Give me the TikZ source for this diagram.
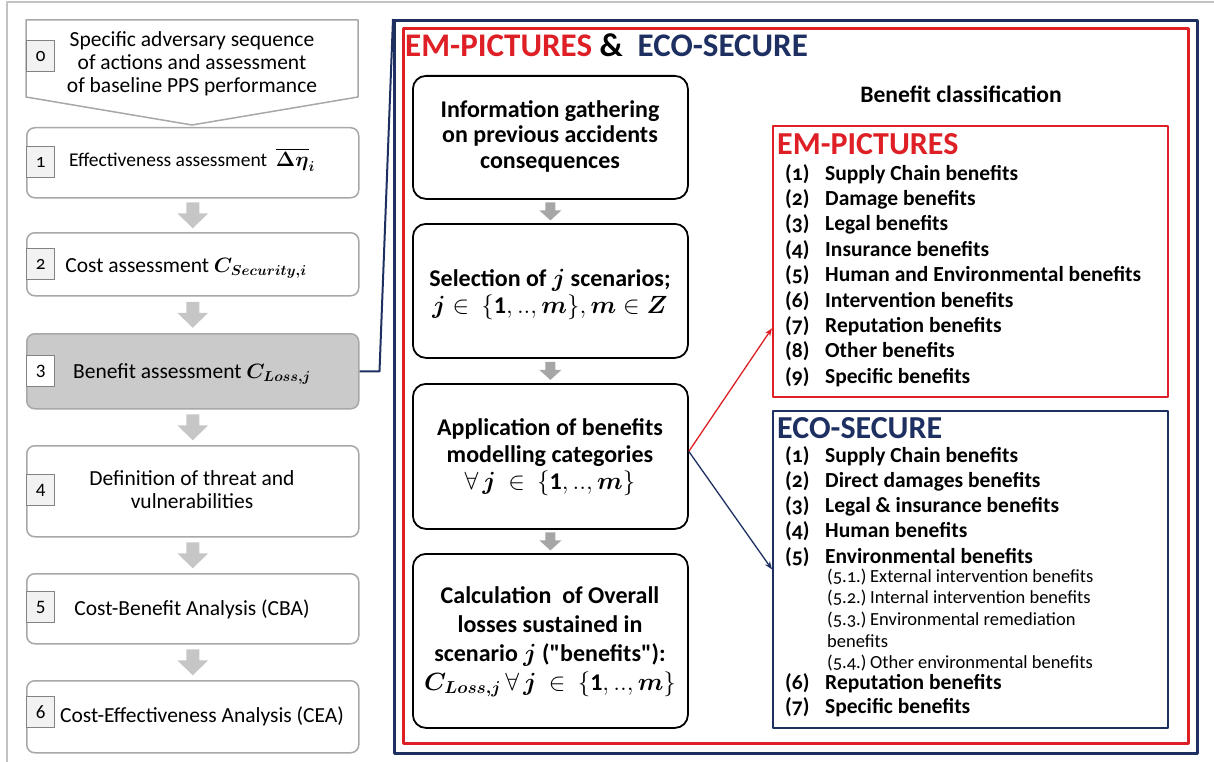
\documentclass[tikz,border=0pt]{standalone}
\usepackage{amsmath,bm}
\usepackage{fontspec}
\setmainfont{Carlito}
\newfontfamily\osf{Carlito}[Numbers=OldStyle]
\usetikzlibrary{arrows.meta,calc}

\definecolor{navy}{RGB}{30,48,98}
\definecolor{fred}{RGB}{222,32,38}
\definecolor{lgray}{RGB}{168,168,168}
\definecolor{sqgray}{RGB}{130,130,130}
\definecolor{sqfill}{RGB}{242,242,242}
\definecolor{shade}{RGB}{202,202,202}
\definecolor{larrowfill}{RGB}{198,198,198}
\definecolor{marrowfill}{RGB}{166,166,166}
\definecolor{framegray}{RGB}{195,195,195}

% multi-line text nodes are placed by the baseline of their last line
\tikzset{
  lbox/.style={draw=lgray, line width=1.5pt, rounded corners=8pt, fill=white,
    anchor=north west, inner sep=0pt, minimum width=332pt},
  numsq/.style={draw=sqgray, line width=1.2pt, fill=sqfill, anchor=north west,
    minimum width=28pt, minimum height=31pt, inner sep=0pt,
    font=\fontsize{19}{21}\selectfont},
  ltext/.style={inner sep=0pt, anchor=base, align=center,
    font=\fontsize{21.5}{23}\selectfont},
  mbox/.style={draw=black, line width=1.8pt, rounded corners=13pt,
    anchor=north west, inner sep=0pt, minimum width=275pt},
  mtext/.style={inner sep=0pt, anchor=base, align=center,
    font=\fontsize{24}{27}\selectfont\bfseries},
  frame/.style={anchor=north west, inner sep=0pt},
  itemnum/.style={inner sep=0pt, anchor=base west,
    font=\osf\bfseries\fontsize{21.5}{25}\selectfont},
  itemtxt/.style={inner sep=0pt, anchor=base west,
    font=\bfseries\fontsize{21.5}{25}\selectfont},
  subtxt/.style={inner sep=0pt, anchor=base west,
    font=\osf\fontsize{18.5}{21}\selectfont},
  boxtitle/.style={inner sep=0pt, anchor=base west,
    font=\bfseries\fontsize{32}{34}\selectfont},
  pics/larrow/.style={code={
    \fill[larrowfill] (-6.5,-13) -- (6.5,-13) -- (6.5,-2) -- (15.5,-2)
      -- (0,13) -- (-15.5,-2) -- (-6.5,-2) -- cycle;}},
  pics/marrow/.style={code={
    \fill[marrowfill] (-5,-9) -- (5,-9) -- (5,-1) -- (11,-1)
      -- (0,9) -- (-11,-1) -- (-5,-1) -- cycle;}},
}

\begin{document}
\begin{tikzpicture}[x=1pt,y=-1pt,line join=round]
\useasboundingbox (0,0) rectangle (1214,762);

% figure frame edges
\draw[framegray, line width=2pt] (7,762) -- (7,2) -- (1214,2);

% ---------- left column: assessment steps ----------
\draw[lgray, line width=1.5pt, fill=white]
  (26,20) -- (358,20) -- (358,97) -- (192,125) -- (26,97) -- cycle;
\node[ltext] (b0t) at (192,93)
  {Specific adversary sequence\\of actions and assessment\\of baseline PPS performance};
\node[numsq] (n0) at (26,40) {\osf 0};

\node[lbox, minimum height=70pt] (b1) at (26,127) {};
\node[numsq] (n1) at (26,146) {\osf 1};
\node[ltext, font=\fontsize{19.5}{22}\selectfont] (b1t) at (192,167)
  {Effectiveness assessment \ $\overline{\bm{\Delta\eta}}_{\bm{i}}$};

\node[lbox, minimum height=63pt] (b2) at (26,232) {};
\node[numsq] (n2) at (26,248) {\osf 2};
\node[ltext] (b2t) at (186,272) {Cost assessment $\bm{C_{Security,i}}$};

\node[lbox, minimum height=75pt, fill=shade] (b3) at (26,333) {};
\node[numsq, fill=white] (n3) at (26,355) {3};
\node[ltext] (b3t) at (192,378) {Benefit assessment $\bm{C_{Loss,j}}$};

\node[lbox, minimum height=91pt] (b4) at (26,445) {};
\node[numsq] (n4) at (26,474) {4};
\node[ltext] (b4t) at (192,508) {Definition of threat and\\vulnerabilities};

\node[lbox, minimum height=70pt] (b5) at (26,573) {};
\node[numsq] (n5) at (26,591) {5};
\node[ltext] (b5t) at (192,615) {Cost-Benefit Analysis (CBA)};

\node[lbox, minimum height=72pt] (b6) at (26,680) {};
\node[numsq] (n6) at (26,696) {6};
\node[ltext] (b6t) at (202,722) {Cost-Effectiveness Analysis (CEA)};

\pic at ($(b1.south)!0.5!(b2.north)$) {larrow};
\pic at ($(b2.south)!0.5!(b3.north)$) {larrow};
\pic at ($(b3.south)!0.5!(b4.north)$) {larrow};
\pic at ($(b4.south)!0.5!(b5.north)$) {larrow};
\pic at ($(b5.south)!0.5!(b6.north)$) {larrow};

% ---------- detail frames ----------
\node[frame, draw=navy, line width=3pt, minimum width=803pt, minimum height=733pt]
  (nf) at (393,19) {};
\node[frame, draw=fred, line width=2.6pt, minimum width=785pt, minimum height=715pt]
  (rf) at (402,27) {};
\draw[navy, line width=2pt] (b3.east) -- ++(20,0) -- (nf.north west);

\node[inner sep=0pt, anchor=base west, font=\bfseries\fontsize{33}{36}\selectfont]
  (title) at (405,57)
  {\textcolor{fred}{EM-PICTURES} \& \ \textcolor{navy}{ECO-SECURE}};

% ---------- middle column: benefit procedure ----------
\node[mbox, minimum height=123pt] (ma) at (412,75) {};
\node[mtext, font=\fontsize{24}{25.5}\selectfont\bfseries] (mat) at (550,168)
  {Information gathering\\on previous accidents\\consequences};

\node[mbox, minimum height=134pt] (mb) at (412,223) {};
\node[mtext, font=\fontsize{24}{27}\selectfont\bfseries] (mbt) at (550,313)
  {Selection of $\bm{j}$ scenarios;\\
   $\bm{j}\in\ \{\mathbf{1},..,\bm{m}\},\bm{m}\in\bm{Z}$};

\node[mbox, minimum height=145pt] (mc) at (412,383) {};
\node[mtext, font=\fontsize{24}{27}\selectfont\bfseries] (mct) at (550,489)
  {Application of benefits\\modelling categories\\
   $\forall\,\bm{j}\ \in\ \{\mathbf{1},..,\bm{m}\}$};

\node[mbox, minimum height=174pt] (md) at (412,553) {};
\node[mtext, font=\fontsize{24}{29}\selectfont\bfseries] (mdt) at (550,690)
  {Calculation \ of Overall\\losses sustained in\\
   scenario $\bm{j}$ (\textquotedbl benefits\textquotedbl):\\
   $\bm{C_{Loss,j}}\,\forall\,\bm{j}\ \in\ \{\mathbf{1},..,\bm{m}\}$};

\pic at ($(ma.south)!0.5!(mb.north)$) {marrow};
\pic at ($(mb.south)!0.5!(mc.north)$) {marrow};
\pic at ($(mc.south)!0.5!(md.north)$) {marrow};

% ---------- right column: benefit classification ----------
\node[inner sep=0pt, anchor=base, font=\bfseries\fontsize{23.6}{25}\selectfont]
  (bc) at (961,103) {Benefit classification};

\node[frame, draw=fred, line width=1.8pt, minimum width=395pt, minimum height=271pt]
  (em) at (772,125) {};
\node[boxtitle, text=fred] (emtitle) at (777,155) {EM-PICTURES};
\foreach \t [count=\k] in {Supply Chain benefits, Damage benefits, Legal benefits,
    Insurance benefits, Human and Environmental benefits, Intervention benefits,
    Reputation benefits, Other benefits, Specific benefits}{
  \node[itemnum] (emn\k) at (785,{180+25.4*(\k-1)}) {(\k)};
  \node[itemtxt] (emt\k) at (825,{180+25.4*(\k-1)}) {\t};
}

\node[frame, draw=navy, line width=1.8pt, minimum width=395pt, minimum height=317pt]
  (eco) at (772,410) {};
\node[boxtitle, text=navy] (ecotitle) at (777,438) {ECO-SECURE};
\foreach \k/\yy/\t in {1/462/Supply Chain benefits, 2/487/Direct damages benefits,
    3/512/Legal \& insurance benefits, 4/537/Human benefits,
    5/563/Environmental benefits, 6/689/Reputation benefits, 7/713/Specific benefits}{
  \node[itemnum] (econ\k) at (785,\yy) {(\k)};
  \node[itemtxt] (ecot\k) at (825,\yy) {\t};
}
\foreach \k/\yy/\t in {1/582/External intervention benefits,
    2/603/Internal intervention benefits, 3/625/Environmental remediation,
    4/668/Other environmental benefits}{
  \node[subtxt] (ecsn\k) at (827,\yy) {(5.\k.)};
  \node[subtxt] (ecst\k) at (870,\yy) {\t};
}
\node[subtxt] (ecst3b) at (827,647) {benefits};

% ---------- links to the classification boxes ----------
\coordinate (emin) at ($(em.south west)!0.255!(em.north west)$);
\draw[fred, line width=1.3pt, -{Stealth[length=8pt,width=6pt]}]
  ($(mc.east)+(0,-5)$) -- (emin);
\draw[navy, line width=1.3pt, -{Stealth[length=8pt,width=6pt]}]
  ($(mc.east)+(0,-5)$) -- (eco.west);
\end{tikzpicture}
\end{document}
